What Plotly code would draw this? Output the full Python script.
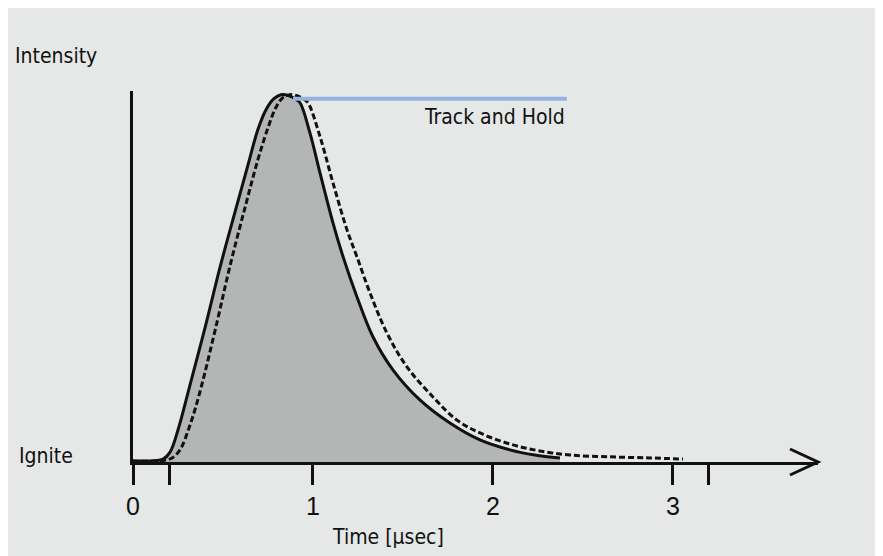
import plotly.graph_objects as go

# Solid curve (signal) – time in µs, normalised intensity
solid_t = [0.00, 0.094, 0.167, 0.206, 0.25, 0.317, 0.40, 0.483, 0.567, 0.639, 0.694, 0.739,
           0.783, 0.822, 0.867, 0.90, 0.928, 0.983, 1.039, 1.111, 1.167, 1.244, 1.333, 1.444,
           1.594, 1.761, 1.928, 2.094, 2.233, 2.372]
solid_i = [0.003, 0.003, 0.008, 0.027, 0.087, 0.21, 0.365, 0.529, 0.681, 0.809, 0.905, 0.959,
           0.989, 1.0, 0.997, 0.989, 0.978, 0.896, 0.787, 0.651, 0.559, 0.45, 0.341, 0.251,
           0.169, 0.106, 0.06, 0.033, 0.019, 0.011]

# Dashed curve
dash_t = [0.00, 0.15, 0.217, 0.261, 0.317, 0.372, 0.467, 0.539, 0.622, 0.694, 0.75, 0.794,
          0.833, 0.872, 0.911, 0.944, 0.972, 1.039, 1.111, 1.189, 1.244, 1.317, 1.411, 1.522,
          1.667, 1.80, 1.928, 2.094, 2.261, 2.428, 2.65, 2.872, 3.056]
dash_i = [0.003, 0.003, 0.011, 0.033, 0.101, 0.191, 0.381, 0.534, 0.692, 0.823, 0.91, 0.965,
          0.992, 1.0, 0.997, 0.989, 0.978, 0.886, 0.76, 0.632, 0.559, 0.46, 0.351, 0.259,
          0.177, 0.114, 0.079, 0.049, 0.03, 0.019, 0.014, 0.011, 0.008]

# Track and Hold level
hold_t = [0.889, 2.411]
hold_i = [0.989, 0.989]

tick_vals = [0, 0.2, 1, 2, 3, 3.2]
tick_text = ["0", "", "1", "2", "3", ""]

BG = "#e5e8e7"
INK = "#111111"
NARROW = "Liberation Sans Narrow, Arial Narrow, DejaVu Sans Condensed, sans-serif"

fig = go.Figure()
fig.add_trace(go.Scatter(x=solid_t, y=solid_i, mode="lines",
                         line=dict(color="rgba(0,0,0,0)", width=0, shape="spline"),
                         fill="tozeroy", fillcolor="#b4b6b5", hoverinfo="skip"))
fig.add_trace(go.Scatter(x=dash_t, y=dash_i, mode="lines",
                         line=dict(color=INK, width=3, dash="6px,3px", shape="spline")))
fig.add_trace(go.Scatter(x=solid_t, y=solid_i, mode="lines",
                         line=dict(color=INK, width=3, shape="spline")))
fig.add_trace(go.Scatter(x=hold_t, y=hold_i, mode="lines",
                         line=dict(color="#93b5e0", width=4)))

fig.update_layout(
    width=900, height=556,
    margin=dict(l=125, r=90, t=83.3, b=102, pad=0),
    paper_bgcolor=BG, plot_bgcolor=BG,
    showlegend=False,
    xaxis=dict(range=[0, 3.806], showgrid=False, zeroline=False, showline=True,
               linecolor=INK, linewidth=3, ticks="outside", ticklen=20, tickwidth=3,
               tickcolor=INK, tickvals=tick_vals, ticktext=tick_text,
               tickfont=dict(family="Liberation Sans, Arial, sans-serif", size=25, color=INK)),
    yaxis=dict(range=[0, 1.01], showgrid=False, zeroline=False, showline=True,
               linecolor=INK, linewidth=3, showticklabels=False, ticks=""),
    font=dict(family=NARROW, color=INK),
)

fig.add_shape(type="path", xref="paper", yref="paper", xsizemode="pixel", ysizemode="pixel",
              xanchor=1, yanchor=0, path="M -28,13 L 0,0 L -28,-13",
              line=dict(color=INK, width=3))

fig.add_annotation(text="Intensity", xref="paper", yref="paper", x=-0.175, y=1.095,
                   xanchor="left", yanchor="middle", showarrow=False, font=dict(size=21))
fig.add_annotation(text="Ignite", xref="paper", yref="paper", x=-0.1693, y=0.016,
                   xanchor="left", yanchor="middle", showarrow=False, font=dict(size=21))
fig.add_annotation(text="Time [µsec]", xref="paper", yref="paper", x=0.372, y=-0.2016,
                   xanchor="center", yanchor="middle", showarrow=False, font=dict(size=21))
fig.add_annotation(text="Track and Hold", xref="x", yref="y", x=2.411, y=0.94,
                   xanchor="right", yanchor="middle", showarrow=False, font=dict(size=21))

fig.write_html("out.html")
